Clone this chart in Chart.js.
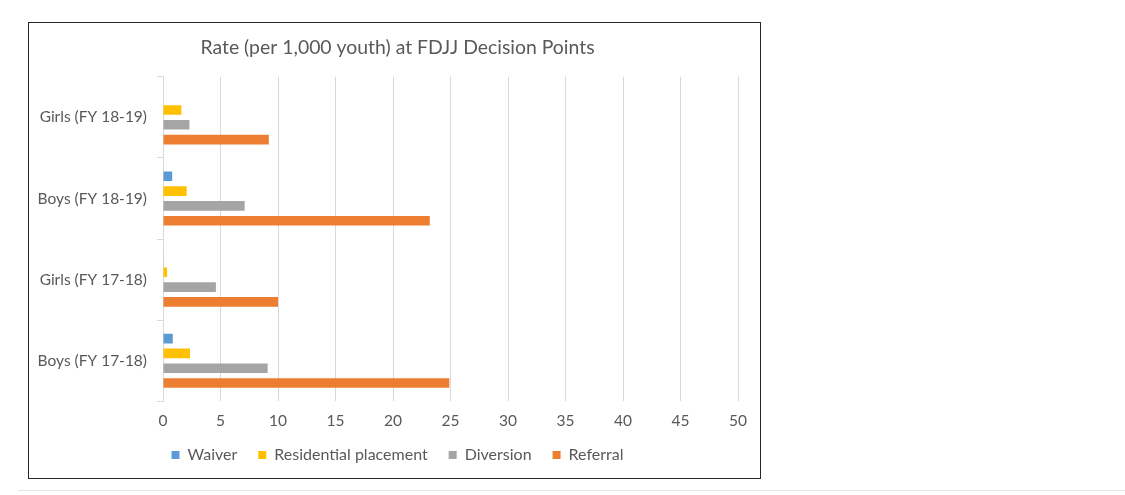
<!DOCTYPE html>
<html>
<head>
<meta charset="utf-8">
<script src="https://cdn.jsdelivr.net/npm/chart.js@4"></script>
<style>
  html, body { margin: 0; padding: 0; background: #fff; }
  body { width: 1125px; height: 495px; position: relative; overflow: hidden; }
  #box {
    position: absolute; left: 28px; top: 22px;
    width: 731px; height: 455px;
    border: 1px solid #262626;
  }
  #rule {
    position: absolute; left: 18px; right: 0; top: 490px;
    height: 1px; background: #e6e6e6;
  }
</style>
</head>
<body>
<div id="box"><canvas id="chartBar"></canvas></div>
<div id="rule"></div>
<script>
const categories = ['Girls (FY 18-19)', 'Boys (FY 18-19)', 'Girls (FY 17-18)', 'Boys (FY 17-18)'];
const waiver = [0, 0.8, 0.05, 0.85];
const residential = [1.6, 2.05, 0.35, 2.35];
const diversion = [2.3, 7.1, 4.6, 9.1];
const referral = [9.2, 23.2, 10.0, 24.9];
const xTicks = [0, 5, 10, 15, 20, 25, 30, 35, 40, 45, 50];

const textColor = '#595959';
const gridColor = '#d9d9d9';
const fontFamily = 'Lato, "Open Sans", sans-serif';

// axis boxes are squeezed to match the original spacing, so widen their label clip areas
const unclipLabels = {
    id: 'unclipLabels',
    afterLayout(chart) {
        chart.scales.y.left = 0;
        chart.scales.x.bottom += 20;
    }
};

function drawChart() {
    const ctx = document.getElementById('chartBar');
    return new Chart(ctx, {
        type: 'bar',
        data: {
            labels: categories,
            datasets: [
                { label: 'Waiver', backgroundColor: '#5B9BD5', data: waiver },
                { label: 'Residential placement', backgroundColor: '#FFC000', data: residential },
                { label: 'Diversion', backgroundColor: '#A5A5A5', data: diversion },
                { label: 'Referral', backgroundColor: '#ED7D31', data: referral },
            ]
        },
        plugins: [unclipLabels],
        options: {
            indexAxis: 'y',
            responsive: true,
            maintainAspectRatio: false,
            animation: false,
            categoryPercentage: 0.73,
            barPercentage: 0.65,
            // left padding balances the right one so title and legend sit centred like the original
            layout: { padding: { left: 28, right: 22, top: 0, bottom: 5 } },
            plugins: {
                title: {
                    display: true,
                    text: 'Rate (per 1,000 youth) at FDJJ Decision Points',
                    color: textColor,
                    font: { family: fontFamily, size: 19.4, weight: 'normal' },
                    padding: { top: 13, bottom: 17.5 }
                },
                legend: {
                    position: 'bottom',
                    labels: {
                        color: textColor,
                        font: { family: fontFamily, size: 16 },
                        boxWidth: 8,
                        boxHeight: 8,
                        padding: 21
                    }
                },
                tooltip: { enabled: false }
            },
            scales: {
                x: {
                    min: 0,
                    max: 50,
                    afterBuildTicks: (scale) => { scale.ticks = xTicks.map(v => ({ value: v })); },
                    afterFit: (scale) => { scale.height = scale.height - 14; },
                    grid: { color: gridColor, drawTicks: false },
                    border: { display: false },
                    ticks: {
                        color: textColor,
                        font: { family: fontFamily, size: 15.5 },
                        padding: 10
                    }
                },
                y: {
                    afterFit: (scale) => { scale.width = 106; },
                    grid: { color: gridColor, drawOnChartArea: false, tickLength: 6 },
                    border: { color: gridColor },
                    ticks: {
                        color: textColor,
                        font: { family: fontFamily, size: 15.5 },
                        padding: 10
                    }
                }
            }
        }
    });
}

document.fonts.load('16px Lato').then(drawChart, drawChart);
</script>
</body>
</html>
